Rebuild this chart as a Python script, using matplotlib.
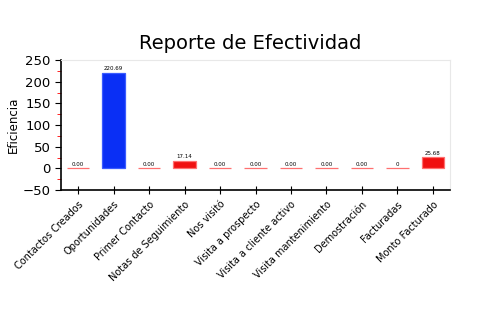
import matplotlib
matplotlib.use("Agg")
import matplotlib.pyplot as plt
from matplotlib.ticker import MultipleLocator

categories = [
    "Contactos Creados", "Oportunidades", "Primer Contacto", "Notas de Seguimiento",
    "Nos visitó", "Visita a prospecto", "Visita a cliente activo",
    "Visita mantenimiento", "Demostración", "Facturadas", "Monto Facturado",
]
values = [0.0, 220.69, 0.0, 17.14, 0.0, 0.0, 0.0, 0.0, 0.0, 0.0, 25.68]
value_labels = ["0.00", "220.69", "0.00", "17.14", "0.00", "0.00", "0.00",
                "0.00", "0.00", "0", "25.68"]
bar_colors = ["#f01010", "#0a2ff5", "#f01010", "#f01010", "#f01010", "#f01010",
              "#f01010", "#f01010", "#f01010", "#f01010", "#f01010"]
edge_colors = ["#ff7070", "#3a5cff", "#ff7070", "#ff7070", "#ff7070", "#ff7070",
               "#ff7070", "#ff7070", "#ff7070", "#ff7070", "#ff7070"]


def main() -> None:
    fig = plt.figure(figsize=(5, 3.3), dpi=100)
    ax = fig.add_axes([0.122, 0.424, 0.778, 0.394])

    x = range(len(categories))
    bars = ax.bar(x, values, width=0.63, color=bar_colors,
                  edgecolor=edge_colors, linewidth=0.9)
    for b, lab in zip(bars, value_labels):
        ax.text(b.get_x() + b.get_width() / 2, b.get_height() + 4, lab,
                ha="center", va="bottom", fontsize=4)

    ax.set_xlim(-0.48, len(categories) - 0.52)
    ax.set_ylim(-50, 250)
    ax.yaxis.set_major_locator(MultipleLocator(50))
    ax.yaxis.set_minor_locator(MultipleLocator(25))
    ax.tick_params(axis="y", which="major", labelsize=9.5, length=4, color="black")
    ax.tick_params(axis="y", which="minor", length=3, color="red")
    ax.set_xticks(list(x))
    ax.set_xticklabels(categories, rotation=45, ha="right",
                       rotation_mode="anchor", fontsize=7)
    ax.tick_params(axis="x", direction="inout", length=6)

    for side in ("top", "right"):
        ax.spines[side].set_color("#e8e8e8")
    ax.spines["left"].set_linewidth(1.2)
    ax.spines["bottom"].set_linewidth(1.2)

    ax.set_ylabel("Eficiencia", fontsize=8.5, labelpad=2)
    fig.text(0.5, 0.867, "Reporte de Efectividad", ha="center", va="center",
             fontsize=14)

    fig.savefig("out.png", dpi=100)


if __name__ == "__main__":
    main()
